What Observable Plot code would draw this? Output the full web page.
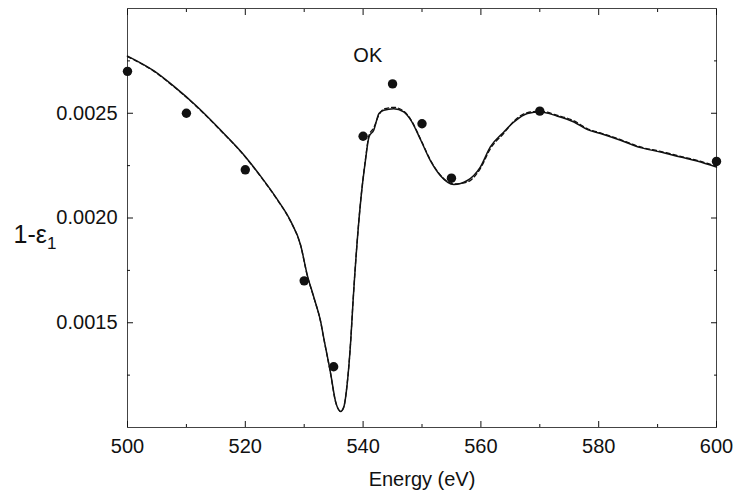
<!DOCTYPE html>
<html><head><meta charset="utf-8">
<script src="https://cdn.jsdelivr.net/npm/d3@7"></script>
<script src="https://cdn.jsdelivr.net/npm/@observablehq/plot@0.6"></script>
<style>body{margin:0;background:#fff}</style>
</head><body><div id="chart"></div>
<script>
const curveEnergy = [500,504.5,507.9,511.8,515.8,519.8,522.6,525.4,527.7,529.4,530.5,531.6,532.8,533.3,534.5,535.3,536.2,536.7,537.3,537.9,538.3,539.6,540.4,541.0,541.8,542.7,543.5,545.2,546.9,548.1,549.8,551.4,553.1,555.4,557.7,559.9,561.6,563.9,565.6,567.9,570.1,573.0,575.8,578.1,580.3,583.7,587.1,590.5,593.9,596.7,600];
const curveSolid = [0.002773,0.002702,0.002628,0.002532,0.002420,0.002300,0.002200,0.002090,0.001985,0.001870,0.001730,0.001625,0.001505,0.001430,0.001256,0.001127,0.001076,0.001095,0.001208,0.001414,0.001605,0.002084,0.002275,0.002387,0.002419,0.002499,0.002514,0.002522,0.002506,0.002467,0.002371,0.002275,0.002203,0.002160,0.002179,0.002243,0.002339,0.002411,0.002458,0.002499,0.002506,0.002486,0.002458,0.002422,0.002403,0.002371,0.002336,0.002315,0.002291,0.002272,0.002243];
const curveDashed = [0.002770,0.002700,0.002626,0.002530,0.002418,0.002298,0.002198,0.002088,0.001983,0.001868,0.001728,0.001623,0.001503,0.001428,0.001254,0.001125,0.001078,0.001097,0.001210,0.001416,0.001607,0.002086,0.002280,0.002395,0.002430,0.002492,0.002520,0.002528,0.002510,0.002470,0.002374,0.002278,0.002206,0.002163,0.002172,0.002236,0.002330,0.002405,0.002462,0.002503,0.002510,0.002490,0.002464,0.002426,0.002406,0.002374,0.002339,0.002318,0.002294,0.002275,0.002248];
const pointEnergy = [500,510,520,530,535,540,545,550,555,570,600];
const pointValue = [0.00270,0.00250,0.00223,0.00170,0.00129,0.00239,0.00264,0.00245,0.00219,0.00251,0.00227];
const xMajor = [500,520,540,560,580,600];
const xMinor = [510,530,550,570,590];
const yMajor = [0.0015,0.0020,0.0025];
const yMinor = [0.00125,0.00175,0.00225,0.00275];
const annotations = [{energy: 540.8, value: 0.002775, label: "OK"}];
const xTitle = "Energy (eV)";
const yTitle = "1-ε₁";

const curve = curveEnergy.map((e, i) => ({e, s: curveSolid[i], d: curveDashed[i]}));
const pts = pointEnergy.map((e, i) => ({e, v: pointValue[i]}));
const ink = "#111";
const empty = () => "";

const chart = Plot.plot({
  width: 734, height: 496,
  marginLeft: 127, marginRight: 18, marginTop: 8, marginBottom: 69,
  style: {fontFamily: "'Liberation Sans', Arial, sans-serif", fontSize: "20px", background: "#fff", color: ink},
  x: {domain: [500, 600]},
  y: {domain: [0.001, 0.003]},
  marks: [
    Plot.frame({stroke: "#444", strokeWidth: 1}),
    Plot.axisX(xMajor, {anchor: "bottom", tickSize: -6, tickPadding: 17, tickFormat: d3.format("d"), fontSize: 20, stroke: ink, fill: ink, label: null}),
    Plot.axisX(xMinor, {anchor: "bottom", tickSize: -3, tickFormat: empty, label: null, stroke: ink}),
    Plot.axisX(xMajor, {anchor: "top", tickSize: -6, tickFormat: empty, label: null, stroke: ink}),
    Plot.axisX(xMinor, {anchor: "top", tickSize: -3, tickFormat: empty, label: null, stroke: ink}),
    Plot.axisY(yMajor, {anchor: "left", tickSize: -6, tickPadding: 16, tickFormat: d3.format(".4f"), fontSize: 20, stroke: ink, fill: ink, label: null}),
    Plot.axisY(yMinor, {anchor: "left", tickSize: -3, tickFormat: empty, label: null, stroke: ink}),
    Plot.axisY(yMajor, {anchor: "right", tickSize: -6, tickFormat: empty, label: null, stroke: ink}),
    Plot.axisY(yMinor, {anchor: "right", tickSize: -3, tickFormat: empty, label: null, stroke: ink}),
    Plot.line(curve, {x: "e", y: "d", stroke: ink, strokeWidth: 1.3, strokeDasharray: "4,3", curve: "monotone-x"}),
    Plot.line(curve, {x: "e", y: "s", stroke: ink, strokeWidth: 1.5, curve: "monotone-x"}),
    Plot.dot(pts, {x: "e", y: "v", r: 4.7, fill: ink, stroke: "none"}),
    Plot.text(annotations, {x: "energy", y: "value", text: "label", fontSize: 20, fill: ink}),
    Plot.text([xTitle], {text: d => d, frameAnchor: "bottom", dy: 58, fontSize: 20, fill: ink}),
    Plot.text([yTitle], {text: d => d, frameAnchor: "left", textAnchor: "start", dx: -114, dy: 17, fontSize: 25, fill: ink})
  ]
});
document.getElementById("chart").appendChild(chart);

// render subscript of the y title with a tspan
d3.select(chart).selectAll("text").each(function() {
  if (this.textContent === yTitle) {
    const t = d3.select(this);
    t.text("");
    t.append("tspan").text(yTitle.slice(0, 3));
    t.append("tspan").attr("dy", "0.35em").attr("font-size", 17).text("1");
  }
});
</script>
</body></html>
